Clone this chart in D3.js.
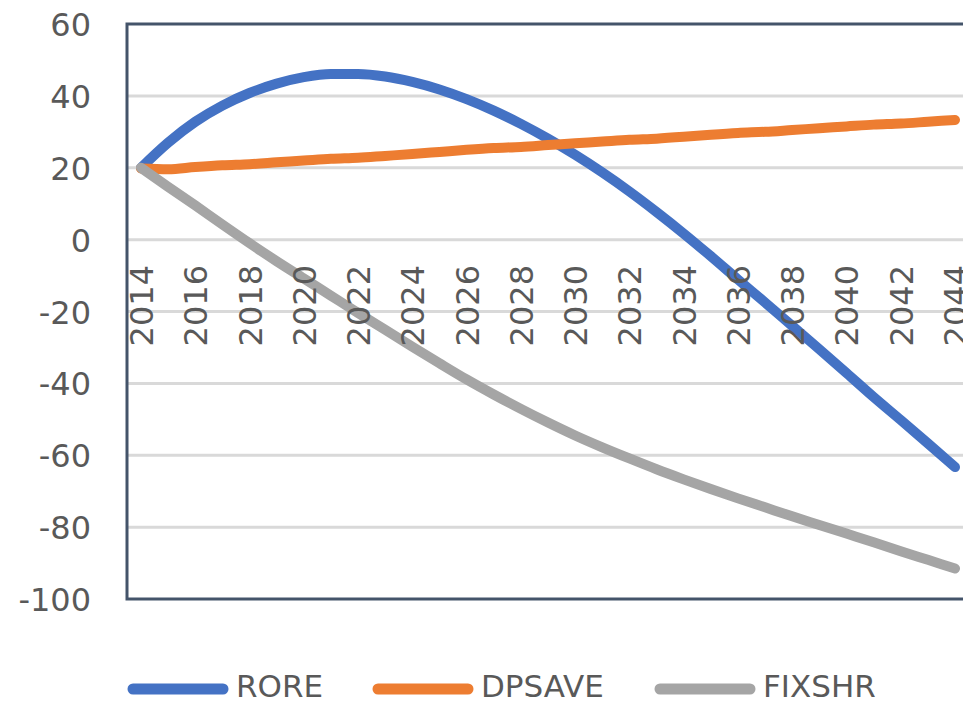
<!DOCTYPE html>
<html>
<head>
<meta charset="utf-8">
<script src="https://cdn.jsdelivr.net/npm/d3@7/dist/d3.min.js"></script>
<style>
  html, body { margin: 0; padding: 0; background: #ffffff; }
  svg { display: block; }
  text { font-family: "DejaVu Sans", "Liberation Sans", sans-serif; fill: #595959; }
</style>
</head>
<body>
<svg id="chart" width="963" height="707"></svg>
<script>
// Years on the category axis
const years = d3.range(2014, 2045);
const yearLabels = years.filter(y => (y - 2014) % 2 === 0);

// Series values, one per year 2014..2044
const rore = [20, 27, 32.8, 37.3, 40.8, 43.4, 45.2, 46.1, 46.1, 45.4, 43.9, 41.8, 39.1, 35.9, 32.2,
  28.1, 23.6, 18.7, 13.4, 7.7, 1.7, -4.6, -11.1, -17.5, -24, -30.5, -37.1, -43.8, -50.2, -56.7, -63.3];
const dpsave = [19.8, 19.6, 20.2, 20.7, 21.0, 21.5, 22.0, 22.5, 22.8, 23.3, 23.8, 24.4, 25.0, 25.5,
  25.8, 26.3, 26.8, 27.3, 27.8, 28.1, 28.6, 29.2, 29.7, 30.0, 30.5, 31.0, 31.5, 32.0, 32.3, 32.8, 33.3];
const fixshr = [20, 14.7, 9.5, 4.2, -1, -6, -10.8, -15.6, -20.4, -25.1, -29.8, -34.4, -38.9, -43.1,
  -47.1, -50.9, -54.5, -57.8, -60.9, -63.9, -66.7, -69.4, -72, -74.5, -77, -79.4, -81.8, -84.2,
  -86.7, -89.1, -91.5];

// Value axis ticks
const yTicks = [60, 40, 20, 0, -20, -40, -60, -80, -100];

const seriesNames = ["RORE", "DPSAVE", "FIXSHR"];
const seriesColors = ["#4472C4", "#ED7D31", "#A5A5A5"];
const seriesValues = [rore, dpsave, fixshr];

const svg = d3.select("#chart");

const plotLeft = 127, plotTop = 24, plotBottom = 599, plotRight = 980;

const x = d3.scaleLinear().domain([2014, 2044]).range([141, 955]);
const y = d3.scaleLinear().domain([-100, 60]).range([plotBottom, plotTop]);

// Horizontal gridlines
svg.append("g")
  .selectAll("line")
  .data(yTicks.filter(t => t > -100 && t < 60))
  .join("line")
  .attr("x1", plotLeft).attr("x2", plotRight)
  .attr("y1", d => y(d)).attr("y2", d => y(d))
  .attr("stroke", "#D9D9D9")
  .attr("stroke-width", 3);

// Plot frame
svg.append("rect")
  .attr("x", plotLeft).attr("y", plotTop)
  .attr("width", plotRight - plotLeft)
  .attr("height", plotBottom - plotTop)
  .attr("fill", "none")
  .attr("stroke", "#44546A")
  .attr("stroke-width", 3);

// Value axis labels (plain hyphen for negatives)
const yAxis = d3.axisLeft(y).tickValues(yTicks).tickFormat(d => String(d)).tickSize(0).tickPadding(0);
const yAxisG = svg.append("g")
  .attr("transform", "translate(91,0)")
  .call(yAxis);
yAxisG.select(".domain").remove();
yAxisG.selectAll("text")
  .attr("x", 0)
  .attr("dy", "0.36em")
  .style("font-size", "32px")
  .style("font-family", "'DejaVu Sans', sans-serif")
  .attr("fill", "#595959");

// Series lines
const line = d3.line()
  .x((d, i) => x(years[i]))
  .y(d => y(d))
  .curve(d3.curveMonotoneX);

svg.append("g")
  .selectAll("path")
  .data(seriesValues)
  .join("path")
  .attr("d", d => line(d))
  .attr("fill", "none")
  .attr("stroke", (d, i) => seriesColors[i])
  .attr("stroke-width", 10)
  .attr("stroke-linecap", "round")
  .attr("stroke-linejoin", "round");

// Category labels, rotated, hanging just below the zero line
const xAxis = d3.axisBottom(x).tickValues(yearLabels).tickFormat(d3.format("d")).tickSize(0);
const xAxisG = svg.append("g")
  .attr("transform", "translate(0,265)")
  .call(xAxis);
xAxisG.select(".domain").remove();
xAxisG.selectAll("text")
  .attr("transform", "rotate(-90)")
  .attr("x", 0).attr("y", 0)
  .attr("dy", "0.36em")
  .attr("text-anchor", "end")
  .style("font-size", "32px")
  .style("font-family", "'DejaVu Sans', sans-serif")
  .attr("fill", "#595959");

// Legend
const legendX = [128, 373, 655];
const legend = svg.append("g")
  .selectAll("g")
  .data(seriesNames)
  .join("g")
  .attr("transform", (d, i) => `translate(${legendX[i]},689)`);
legend.append("line")
  .attr("x1", 5).attr("x2", 95)
  .attr("y1", 0).attr("y2", 0)
  .attr("stroke", (d, i) => seriesColors[i])
  .attr("stroke-width", 11)
  .attr("stroke-linecap", "round");
legend.append("text")
  .attr("x", 108)
  .attr("y", -3)
  .attr("dy", "0.36em")
  .style("font-size", "31px")
  .text(d => d);
</script>
</body>
</html>
